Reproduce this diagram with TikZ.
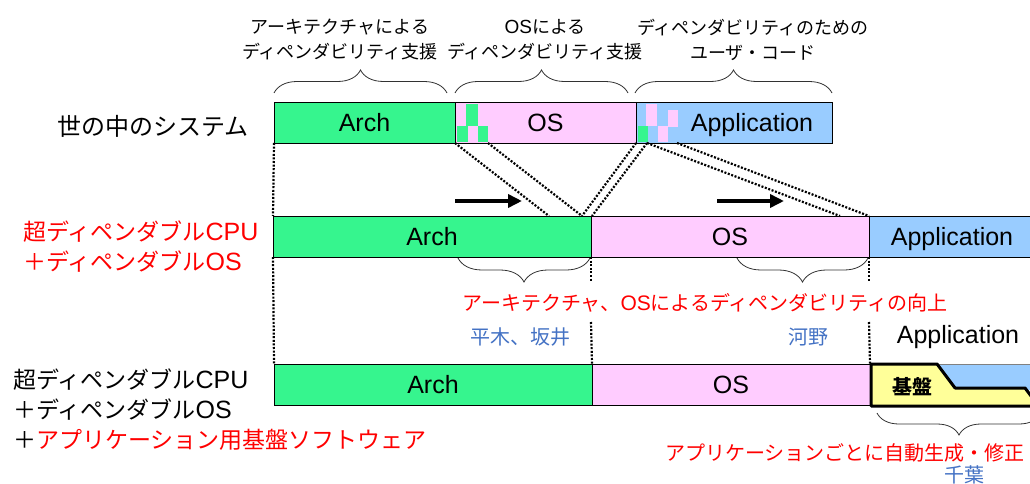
\documentclass[tikz,border=0pt]{standalone}
\usepackage{fontspec}
\setmainfont{Liberation Sans}
\newfontfamily\jp{Noto Sans CJK JP}
\newcommand\lat[2][25]{{\rmfamily\fontsize{#1}{#1}\selectfont #2}}
\usetikzlibrary{arrows.meta,decorations.pathreplacing}
\definecolor{archgreen}{RGB}{54,245,142}
\definecolor{ospink}{RGB}{255,204,255}
\definecolor{appblue}{RGB}{153,204,255}
\definecolor{basey}{RGB}{255,255,153}
\definecolor{namblue}{RGB}{68,114,196}
\definecolor{bracegray}{RGB}{50,50,50}

\begin{document}
\begin{tikzpicture}[x=1pt,y=-1pt,
  layer/.style={draw=black,line width=0.9pt,inner sep=0pt,outer sep=0pt,anchor=north west,
    minimum height=41pt,text height=18pt,text depth=0pt,font=\fontsize{25}{28}\selectfont},
  arch/.style={layer,fill=archgreen},
  ossty/.style={layer,fill=ospink},
  appsty/.style={layer,fill=appblue},
  jlabel/.style={font=\jp\fontsize{18}{25}\selectfont,align=center,inner sep=0pt},
  rowlabel/.style={font=\jp\fontsize{23}{30}\selectfont,align=left,anchor=west,inner sep=0pt},
  note/.style={font=\jp\fontsize{20}{24}\selectfont,inner sep=0pt},
  brc/.style={decorate,decoration={brace,amplitude=#1},draw=bracegray,line width=0.8pt},
  link/.style={line width=2.2pt,dash pattern=on 2pt off 1.6pt},
  push/.style={line width=4pt,-{Triangle[length=14pt,width=13pt]}}
]
\useasboundingbox (0,0) rectangle (1030,484);
\clip (0,0) rectangle (1030,484);

% ---- row 1: systems in the world ----
\node[arch,minimum width=181pt]  (A1) at (274,102) {Arch};
\node[ossty,minimum width=181pt] (O1) at (455,102) {OS};
\node[appsty,minimum width=196pt] (P1) at (636,102) {\hspace*{36pt}Application};
% mixed-in fragments
\fill[archgreen] (466,104) rectangle (478,126);
\fill[archgreen] (457,126) rectangle (468,142);
\fill[archgreen] (478,126) rectangle (488,142);
\fill[ospink] (646,104) rectangle (657,126);
\fill[ospink] (668,110) rectangle (678,127);
\fill[ospink] (658,126) rectangle (668,142);
\fill[archgreen] (638,126) rectangle (648,142);
\draw[line width=0.9pt] (636,102) -- (636,143);

\node[rowlabel,font=\jp\fontsize{24}{30}\selectfont] (sys) at (57,126) {世の中のシステム};

% labels above row 1
\node[jlabel] (lA) at (340,39.5) {アーキテクチャによる\\ディペンダビリティ支援};
\node[jlabel] (lO) at (545,39.5) {\lat[19]{OS}による\\ディペンダビリティ支援};
\node[jlabel] (lP) at (753,39.5) {ディペンダビリティのための\\ユーザ・コード};
\draw[brc=23pt] (274,93) -- (447,93);
\draw[brc=23pt] (455,93) -- (628,93);
\draw[brc=23pt] (635,93) -- (832,93);

% ---- row 2: dependable CPU + dependable OS ----
\node[arch,minimum width=318pt]  (A2) at (273,216) {Arch};
\node[ossty,minimum width=278pt] (O2) at (591,216) {OS};
\node[appsty,minimum width=180pt] (P2) at (869,216) {\hspace*{-14pt}Application};

\node[rowlabel,text=red] (cpu2) at (23,247) {超ディペンダブル\lat{CPU}\\＋ディペンダブル\lat{OS}};

% mapping lines between row 1 and row 2
\coordinate (m1) at (488,143);
\coordinate (m2) at (549,216);
\coordinate (m3) at (582,216);
\coordinate (m4) at (647,143);
\coordinate (m5) at (592,216);
\coordinate (m6) at (840,216);
\coordinate (m7) at (677,143);
\draw[link] (A1.south west) -- (A2.north west);
\draw[link] (O1.south west) -- (m2);
\draw[link] (m1) -- (m3);
\draw[link] (P1.south west) -- (m3);
\draw[link] (m4) -- (m5);
\draw[link] (m4) -- (m6);
\draw[link] (m7) -- (O2.north east);

% shift arrows
\coordinate (s1) at (455,201);
\coordinate (e1) at (522,201);
\coordinate (s2) at (717,201);
\coordinate (e2) at (784,201);
\draw[push] (s1) -- (e1);
\draw[push] (s2) -- (e2);

% ---- row 3: plus application base software ----
\node[arch,minimum width=318pt]  (A3) at (274,364) {Arch};
\node[ossty,minimum width=278pt] (O3) at (592,364) {OS};

\node[rowlabel] (cpu3) at (13,410) {超ディペンダブル\lat{CPU}\\＋ディペンダブル\lat{OS}\\＋{\color{red}アプリケーション用基盤ソフトウェア}};

% generated application base
\fill[appblue] (937,364) -- (1040,364) -- (1040,390) -- (955,390) -- cycle;
\draw[line width=0.6pt,gray] (937,364) -- (1040,364);
\draw[fill=basey,line width=3pt,line join=round]
  (871,364) -- (937,364) -- (955,388) -- (1025,388) -- (1034,400) -- (1040,400)
  -- (1040,406) -- (871,406) -- cycle;
\node[font=\jp\bfseries\fontsize{20}{24}\selectfont,inner sep=0pt] (kiban) at (912,387) {基盤};

% dotted guides between row 2 and row 3
\coordinate (g1) at (591,282);
\coordinate (g2) at (591,322);
\coordinate (g3) at (869,282);
\coordinate (g4) at (869,322);
\draw[link] (A2.south west) -- (A3.north west);
\draw[link] (A2.south east) -- (g1);
\draw[link] (g2) -- (A3.north east);
\draw[link] (O2.south east) -- (g3);
\draw[link] (g4) -- (O3.north east);

% improvement braces and notes
\draw[brc=24pt] (590,258) -- (458,258);
\draw[brc=24pt] (868,258) -- (737,258);
\node[note,text=red] (impr) at (705,303) {アーキテクチャ、\lat[21]{OS}によるディペンダビリティの向上};
\node[note,text=namblue] (hs) at (520,337) {平木、坂井};
\node[note,text=namblue] (kn) at (808,337) {河野};
\node[inner sep=0pt,font=\fontsize{25}{28}\selectfont] (app3) at (958,337) {Application};

\draw[brc=22pt] (1041,413) -- (877,413);
\node[note,text=red] (gen) at (845,453) {アプリケーションごとに自動生成・修正};
\node[note,text=namblue] (cb) at (964,475) {千葉};
\end{tikzpicture}
\end{document}
